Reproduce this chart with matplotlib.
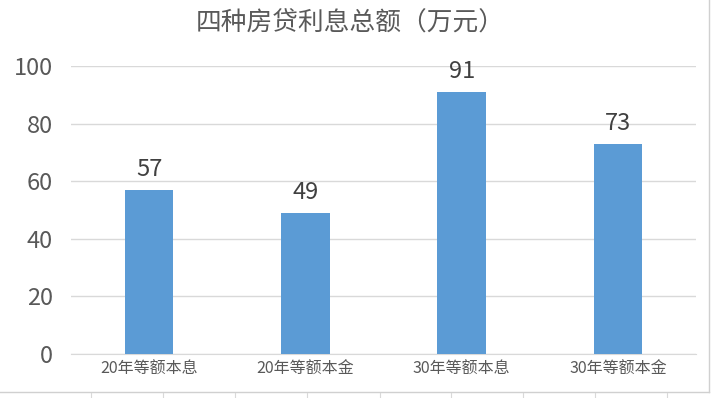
import matplotlib.pyplot as plt
from matplotlib.lines import Line2D

plt.rcParams['font.family'] = ['Noto Sans CJK SC', 'DejaVu Sans']

categories = ['20年等额本息', '20年等额本金', '30年等额本息', '30年等额本金']
values = [57, 49, 91, 73]
yticks = [0, 20, 40, 60, 80, 100]

W, H = 712, 398
fig = plt.figure(figsize=(W / 100, H / 100), dpi=100)
ax = fig.add_axes([71 / W, 1 - 354 / H, (696 - 71) / W, (354 - 66) / H])

x = range(len(categories))
ax.bar(x, values, width=0.31, color='#5B9BD5', zorder=3)
for xi, v in zip(x, values):
    ax.text(xi, v + 3.0, str(v), ha='center', va='bottom', fontsize=17, color='#404040')

ax.set_xlim(-0.5, 3.5)
ax.set_ylim(0, 100)
ax.set_yticks(yticks)
ax.set_xticks(list(x))
ax.set_xticklabels(categories, fontsize=11.5, color='#595959')
ax.tick_params(axis='y', labelsize=17, labelcolor='#595959', length=0, pad=13)
ax.tick_params(axis='x', length=0, pad=5)
ax.grid(axis='y', color='#d9d9d9', linewidth=1, zorder=0)
for s in ['top', 'right', 'left']:
    ax.spines[s].set_visible(False)
ax.spines['bottom'].set_color('#d9d9d9')

fig.text(350 / W, 1 - 24 / H, '四种房贷利息总额（万元）', ha='center', va='center',
         fontsize=18.5, color='#595959')

# chart frame and sheet grid below
fig.add_artist(Line2D([0, 709 / W], [1 - 392 / H] * 2, color='#d0d0d0', lw=1))
fig.add_artist(Line2D([709 / W] * 2, [1 - 392 / H, 1], color='#d0d0d0', lw=1))
for gx in [91, 163, 235, 307, 380, 451, 523, 595, 667]:
    fig.add_artist(Line2D([gx / W] * 2, [0, 1 - 393 / H], color='#d9d9d9', lw=0.8))

fig.savefig('out.png', dpi=100)
